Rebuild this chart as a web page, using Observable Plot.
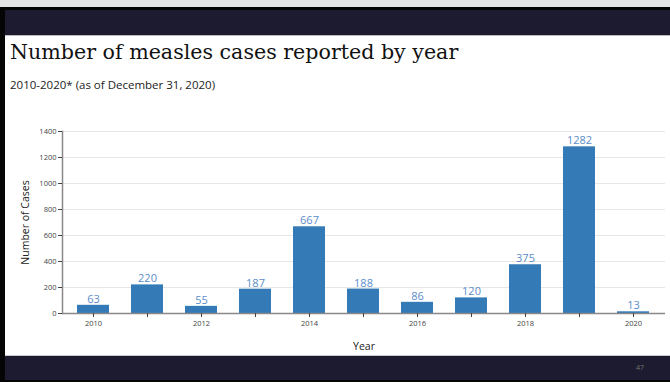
<!DOCTYPE html>
<html><head><meta charset="utf-8">
<script src="https://cdn.jsdelivr.net/npm/d3@7"></script>
<script src="https://cdn.jsdelivr.net/npm/@observablehq/plot@0.6"></script>
<style>
body{margin:0;background:#fff;}
#wrap{position:relative;width:670px;height:382px;overflow:hidden;background:#fff;font-family:"Open Sans",sans-serif;}
.abs{position:absolute;}
#title{left:10px;top:40px;font-family:"DejaVu Serif",serif;font-size:20.6px;color:#111;white-space:nowrap;line-height:1.2;}
#sub{left:10px;top:78px;font-size:11.5px;color:#222;white-space:nowrap;line-height:1.2;}
#chart{left:0;top:120px;}
</style></head>
<body><div id="wrap">
<div class="abs" style="left:0;top:0;width:670px;height:7px;background:#e4e4e6"></div>
<div class="abs" style="left:0;top:7px;width:670px;height:3px;background:#050505"></div>
<div class="abs" style="left:0;top:10px;width:670px;height:25px;background:#1c1b2f"></div>
<div class="abs" style="left:0;top:35px;width:670px;height:1px;background:#bbb"></div>
<div id="title" class="abs">Number of measles cases reported by year</div>
<div id="sub" class="abs">2010-2020* (as of December 31, 2020)</div>
<div id="chart" class="abs"></div>
<div class="abs" style="left:0;top:355px;width:670px;height:1px;background:#c8c8d0"></div>
<div class="abs" style="left:0;top:356px;width:670px;height:24px;background:#1c1b2f"></div>
<div class="abs" style="left:0;top:380px;width:670px;height:2px;background:#050505"></div>
<div class="abs" style="left:0;top:7px;width:5px;height:375px;background:#050505"></div>
<div class="abs" style="left:636px;top:363px;font-size:7px;color:#777">47</div>
</div>
<script>
const years = [2010, 2011, 2012, 2013, 2014, 2015, 2016, 2017, 2018, 2019, 2020];
const cases = [63, 220, 55, 187, 667, 188, 86, 120, 375, 1282, 13];
const yTicks = [0, 200, 400, 600, 800, 1000, 1200, 1400];
const xLabelYears = [2010, 2012, 2014, 2016, 2018, 2020];

const data = years.map((y, i) => ({year: y, cases: cases[i]}));

const chart = Plot.plot({
  width: 670,
  height: 240,
  marginLeft: 62,
  marginRight: 5,
  marginTop: 11,
  marginBottom: 47,
  style: {fontFamily: "Open Sans, sans-serif", background: "transparent", overflow: "visible"},
  x: {type: "band", domain: years, paddingInner: 0.4, paddingOuter: 0.2},
  y: {domain: [0, 1400]},
  marks: [
    Plot.gridY(yTicks, {stroke: "#e6e6e6", strokeOpacity: 1}),
    Plot.barY(data, {x: "year", y: "cases", fill: "#337ab7"}),
    Plot.text(data, {x: "year", y: "cases", text: d => String(d.cases), dy: -6, fill: "#5b8dc9", fontSize: 11}),
    Plot.frame({anchor: "left", stroke: "#888", strokeWidth: 1.5}),
    Plot.ruleY([0], {stroke: "#888", strokeWidth: 1.5}),
    Plot.axisY(yTicks, {tickSize: 4, tickPadding: 2, fontSize: 7.5, color: "#444", tickFormat: d => String(d), label: null}),
    Plot.axisY([], {tickSize: 0, fontSize: 10.5, color: "#222", label: "Number of Cases", labelAnchor: "center", labelOffset: 41, labelArrow: "none"}),
    Plot.axisX({tickSize: 4, tickPadding: 3, fontSize: 7.5, color: "#444", tickFormat: d => xLabelYears.includes(d) ? String(d) : "", label: null}),
    Plot.axisX([], {tickSize: 0, fontSize: 10.5, color: "#222", label: "Year", labelAnchor: "center", labelOffset: 36, labelArrow: "none"})
  ]
});
document.getElementById("chart").appendChild(chart);
</script>
</body></html>
